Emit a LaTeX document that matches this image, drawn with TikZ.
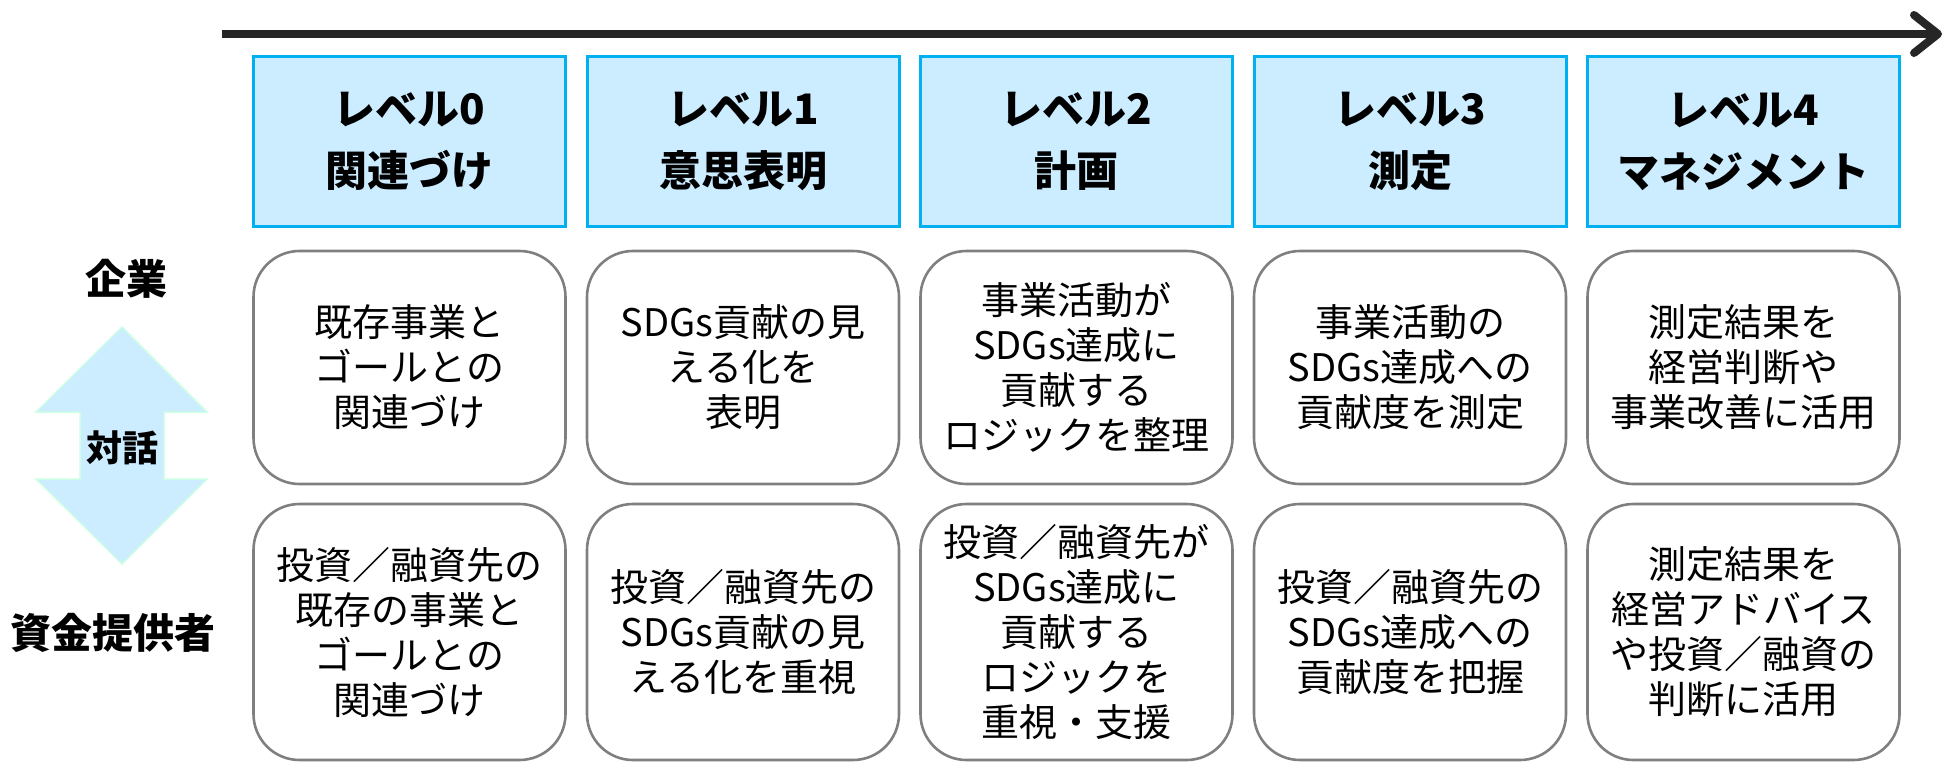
\documentclass[tikz,border=0pt]{standalone}
\usepackage{fontspec}
\newfontfamily\jp{Noto Sans CJK JP}
\definecolor{hfill}{HTML}{CCECFF}
\definecolor{hdraw}{HTML}{00B0F0}
\definecolor{bdraw}{HTML}{7F7F7F}
\definecolor{adraw}{HTML}{CCFFE5}
\definecolor{tl}{HTML}{262626}
\begin{document}
\begin{tikzpicture}[x=1pt,y=-1pt,
  hdr/.style={draw=hdraw,fill=hfill,line width=3pt,minimum width=312pt,minimum height=169pt,inner sep=0pt,align=center,
    font={\jp\bfseries\fontsize{42}{62}\selectfont}},
  cbox/.style={draw=bdraw,line width=2.6pt,rounded corners=46pt,inner sep=0pt,align=center,minimum width=312pt,
    font={\jp\fontsize{38}{45}\selectfont}},
  rowa/.style={cbox,minimum height=233pt},
  rowb/.style={cbox,minimum height=256pt},
  side/.style={font={\jp\bfseries\fontsize{41}{48}\selectfont}}]
\useasboundingbox (0,0) rectangle (1945,762);
% timeline
\coordinate (ts) at (222,34);
\coordinate (te) at (1938,34);
\coordinate (tu) at (1914,15);
\coordinate (td) at (1914,53);
\draw[tl,line width=8pt] (ts) -- (te);
\draw[tl,line width=8pt,line cap=round,line join=round] (tu) -- (te) -- (td);
% headers
\foreach \i/\t in {0/{レベル0\\関連づけ},1/{レベル1\\意思表明},2/{レベル2\\計画},3/{レベル3\\測定},4/{レベル4\\マネジメント}}{
  \node[hdr] (h\i) at ({409.5+333.5*\i},141.5) {\t};
}
% row a
\foreach \i/\t in {0/{既存事業と\\ゴールとの\\関連づけ},1/{SDGs貢献の見\\える化を\\表明},2/{事業活動が\\SDGs達成に\\貢献する\\ロジックを整理},3/{事業活動の\\SDGs達成への\\貢献度を測定},4/{測定結果を\\経営判断や\\事業改善に活用}}{
  \node[rowa] (a\i) at ({409.5+333.5*\i},367.5) {\t};
}
% row b
\foreach \i/\t in {0/{投資／融資先の\\既存の事業と\\ゴールとの\\関連づけ},1/{投資／融資先の\\SDGs貢献の見\\える化を重視},2/{投資／融資先が\\SDGs達成に\\貢献する\\ロジックを\\重視・支援},3/{投資／融資先の\\SDGs達成への\\貢献度を把握},4/{測定結果を\\経営アドバイス\\や投資／融資の\\判断に活用}}{
  \node[rowb] (b\i) at ({409.5+333.5*\i},632) {\t};
}
% side labels
\node[side] (kigyo) at (126,279) {企業};
\node[side] (shikin) at (113,633) {資金提供者};
% double arrow
\draw[adraw,fill=hfill,line width=1.5pt] (122,327) -- (207,412) -- (164,412) -- (164,479) -- (207,479) -- (122,564) -- (36,479) -- (80,479) -- (80,412) -- (36,412) -- cycle;
\node[font={\jp\bfseries\fontsize{36}{40}\selectfont}] (taiwa) at (122,448) {対話};
\end{tikzpicture}
\end{document}
